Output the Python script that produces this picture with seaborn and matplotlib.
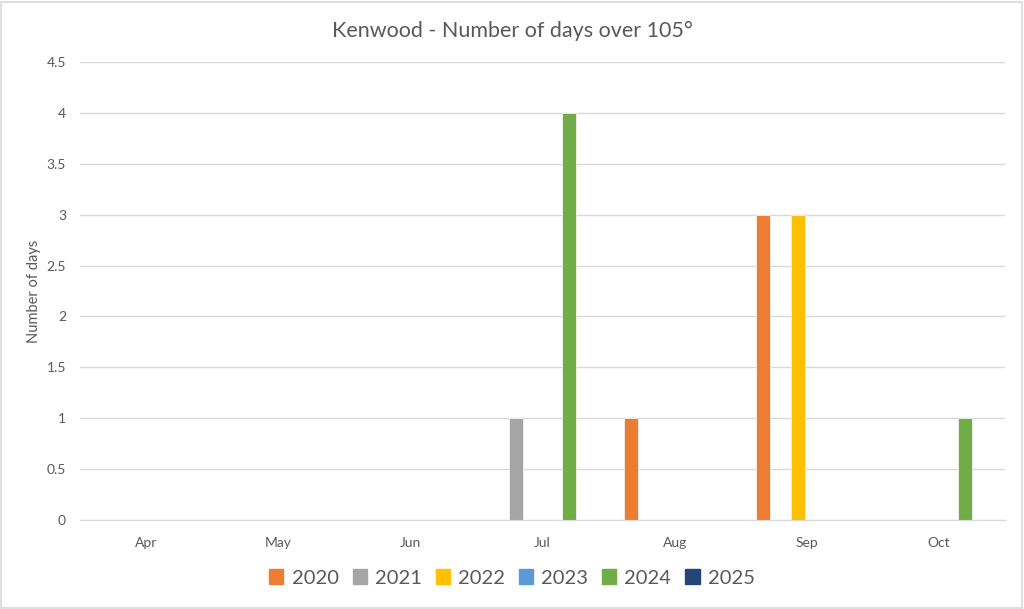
import pandas as pd
import numpy as np
import seaborn as sns
import matplotlib.pyplot as plt
from matplotlib.patches import Rectangle

months = ["Apr", "May", "Jun", "Jul", "Aug", "Sep", "Oct"]
years = ["2020", "2021", "2022", "2023", "2024", "2025"]
# days over 105 per month, one list per year
days_2020 = [0, 0, 0, 0, 1, 3, 0]
days_2021 = [0, 0, 0, 1, 0, 0, 0]
days_2022 = [0, 0, 0, 0, 0, 3, 0]
days_2023 = [0, 0, 0, 0, 0, 0, 0]
days_2024 = [0, 0, 0, 4, 0, 0, 1]
days_2025 = [0, 0, 0, 0, 0, 0, 0]
colors = ["#ED7D31", "#A5A5A5", "#FFC000", "#5B9BD5", "#70AD47", "#264478"]

all_days = [days_2020, days_2021, days_2022, days_2023, days_2024, days_2025]
rows = []
for yr, vals in zip(years, all_days):
    for m, v in zip(months, vals):
        rows.append({"month": m, "year": yr, "days": v})
df = pd.DataFrame(rows)

sns.set_style("white")
plt.rcParams['font.family'] = ['Lato', 'DejaVu Sans']
txt = "#595959"

fig = plt.figure(figsize=(10.24, 6.09), dpi=100)
ax = fig.add_axes([80/1024, 1-520/609, 925/1024, 458/609])

sns.barplot(data=df, x="month", y="days", hue="year", order=months,
            hue_order=years, palette=colors, width=0.8, gap=0.2,
            saturation=1, ax=ax, legend=False, linewidth=0.6, edgecolor="#F2F2F2")

ax.set_ylim(0, 4.5)
ax.set_yticks(np.arange(0, 4.51, 0.5))
ax.set_yticklabels(["0", "0.5", "1", "1.5", "2", "2.5", "3", "3.5", "4", "4.5"])
ax.set_xlim(-0.5, len(months) - 0.5)
ax.yaxis.grid(True, color="#D9D9D9", lw=1)
ax.set_axisbelow(True)
for s in ["top", "right", "left"]:
    ax.spines[s].set_visible(False)
ax.spines["bottom"].set_color("#D9D9D9")
ax.tick_params(axis="both", length=0, labelsize=10, colors=txt)
ax.tick_params(axis="x", pad=12)
ax.tick_params(axis="y", pad=10)
ax.set_xlabel("")
ax.set_ylabel("Number of days", fontsize=10.5, color=txt, labelpad=4)

fig.suptitle("Kenwood - Number of days over 105°", y=0.965, fontsize=15.5, color=txt)

handles = [Rectangle((0, 0), 1, 1, color=c) for c in colors]
fig.legend(handles, years, loc="center", bbox_to_anchor=(0.5, 1-578/609), ncol=6,
           frameon=False, fontsize=14.5, handlelength=0.7, handleheight=0.7,
           handletextpad=0.4, columnspacing=0.7, labelcolor=txt)

fig.patches.append(Rectangle((0.001, 0.002), 0.997, 0.995, transform=fig.transFigure,
                             fill=False, edgecolor="#D9D9D9", lw=1.2))

fig.savefig("out.png", dpi=100)
